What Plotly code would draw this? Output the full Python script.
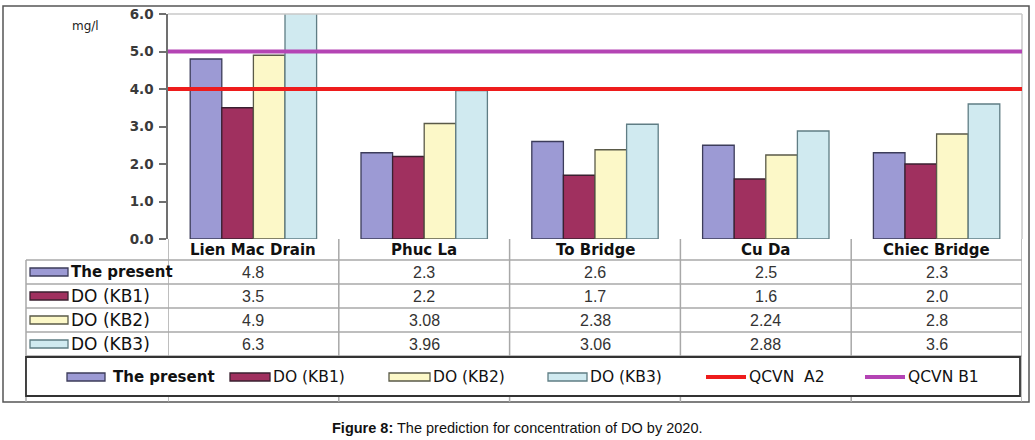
import plotly.graph_objects as go

# ---------------- data ----------------
categories = ["Lien Mac Drain", "Phuc La", "To Bridge", "Cu Da", "Chiec Bridge"]
series_names = ["The present", "DO (KB1)", "DO (KB2)", "DO (KB3)"]
present = [4.8, 2.3, 2.6, 2.5, 2.3]
kb1 = [3.5, 2.2, 1.7, 1.6, 2.0]
kb2 = [4.9, 3.08, 2.38, 2.24, 2.8]
kb3 = [6.3, 3.96, 3.06, 2.88, 3.6]
table_text = [
    ["4.8", "2.3", "2.6", "2.5", "2.3"],
    ["3.5", "2.2", "1.7", "1.6", "2.0"],
    ["4.9", "3.08", "2.38", "2.24", "2.8"],
    ["6.3", "3.96", "3.06", "2.88", "3.6"],
]
qcvn_a2 = 4.0
qcvn_b1 = 5.0
line_names = ["QCVN  A2", "QCVN B1"]
y_ticks = [0, 1, 2, 3, 4, 5, 6]
y_tick_labels = ["0.0", "1.0", "2.0", "3.0", "4.0", "5.0", "6.0"]
caption_bold = "Figure 8:"
caption_rest = " The prediction for concentration of DO by 2020."

# ---------------- style ----------------
W, H = 1035, 440
PL, PR, PT, PB = 168, 1022, 14, 239  # plot area in px
fills = ["#9c9ad4", "#a0305f", "#fcf8c8", "#d0eaf0"]
outlines = ["#3c3c5a", "#3a2030", "#5a5a48", "#5f7d84"]
red = "#ee1c1c"
magenta = "#b444b4"
SANS = "DejaVu Sans"
ARIAL = "Liberation Sans"


def xp(px):
    return (px - PL) / (PR - PL)


def yp(py):
    return (PB - py) / (PB - PT)


fig = go.Figure()
for name, vals, fc, lc in zip(series_names, [present, kb1, kb2, kb3], fills, outlines):
    fig.add_trace(go.Bar(
        x=categories, y=vals, name=name,
        marker=dict(color=fc, line=dict(color=lc, width=1.3)),
        showlegend=False, hoverinfo="x+y+name",
    ))

shapes = []
annotations = []

# plot frame
shapes.append(dict(type="line", xref="paper", yref="paper", x0=0, x1=1, y0=1, y1=1,
                   line=dict(color="#c8c8c8", width=1.5)))
shapes.append(dict(type="line", xref="paper", yref="paper", x0=1, x1=1, y0=0, y1=1,
                   line=dict(color="#c8c8c8", width=1.5)))

# standard lines
shapes.append(dict(type="line", xref="paper", yref="y", x0=0, x1=1, y0=qcvn_a2, y1=qcvn_a2,
                   line=dict(color=red, width=4)))
shapes.append(dict(type="line", xref="paper", yref="y", x0=0, x1=1, y0=qcvn_b1, y1=qcvn_b1,
                   line=dict(color=magenta, width=4)))

# outer border
shapes.append(dict(type="rect", xref="paper", yref="paper",
                   x0=xp(3), x1=xp(1029), y0=yp(402), y1=yp(6),
                   line=dict(color="#555555", width=1.5), fillcolor="rgba(0,0,0,0)", layer="below"))

# ---------------- data table ----------------
grid = "#a8a8a8"
row_lines = [260, 284, 308, 332, 356]
for i, ry in enumerate(row_lines):
    shapes.append(dict(type="line", xref="paper", yref="paper",
                       x0=xp(26), x1=xp(PR), y0=yp(ry), y1=yp(ry),
                       line=dict(color=grid, width=1.5)))
n = len(categories)
for i in range(n + 1):
    shapes.append(dict(type="line", xref="x", yref="paper",
                       x0=i - 0.5, x1=i - 0.5, y0=yp(PB), y1=yp(402),
                       line=dict(color=grid, width=1.5)))
shapes.append(dict(type="line", xref="paper", yref="paper",
                   x0=xp(26), x1=xp(26), y0=yp(260), y1=yp(402),
                   line=dict(color=grid, width=1.5)))

# header labels
for i, c in enumerate(categories):
    annotations.append(dict(x=i, xref="x", y=yp(250), yref="paper", text=c,
                            showarrow=False, xanchor="center", yanchor="middle",
                            font=dict(family=SANS, size=15, color="#111111", weight="bold")))

# row labels with swatches and values
row_centers = [272, 296, 320, 344]
for r, (name, fc, lc) in enumerate(zip(series_names, fills, outlines)):
    cy = row_centers[r]
    shapes.append(dict(type="rect", xref="paper", yref="paper",
                       x0=xp(30), x1=xp(68), y0=yp(cy + 4), y1=yp(cy - 4),
                       fillcolor=fc, line=dict(color=lc, width=1.3)))
    bold = r == 0
    annotations.append(dict(x=xp(69), xref="paper", y=yp(cy), yref="paper", text=name,
                            showarrow=False, xanchor="left", yanchor="middle",
                            font=dict(family=SANS, size=15 if bold else 17, color="#111111",
                                      weight="bold" if bold else "normal")))
    for i in range(n):
        annotations.append(dict(x=i, xref="x", y=yp(cy), yref="paper", text=table_text[r][i],
                                showarrow=False, xanchor="center", yanchor="middle",
                                font=dict(family=ARIAL, size=16, color="#333333")))

# ---------------- legend box ----------------
shapes.append(dict(type="rect", xref="paper", yref="paper",
                   x0=xp(26), x1=xp(1020), y0=yp(396), y1=yp(357),
                   line=dict(color="#333333", width=1.8), fillcolor="white"))
leg_cy = 377
legend_items = [
    # (swatch x0, x1, text x, label, kind, fill, outline, bold)
    (67, 105, 111, series_names[0], "rect", fills[0], outlines[0], True),
    (230, 270, 271, series_names[1], "rect", fills[1], outlines[1], False),
    (389, 430, 431, series_names[2], "rect", fills[2], outlines[2], False),
    (548, 587, 588, series_names[3], "rect", fills[3], outlines[3], False),
    (706, 746, 747, line_names[0], "line", red, red, False),
    (865, 905, 906, line_names[1], "line", magenta, magenta, False),
]
for x0, x1, tx, label, kind, fc, lc, bold in legend_items:
    if kind == "rect":
        shapes.append(dict(type="rect", xref="paper", yref="paper",
                           x0=xp(x0), x1=xp(x1), y0=yp(leg_cy + 4), y1=yp(leg_cy - 4),
                           fillcolor=fc, line=dict(color=lc, width=1.3)))
    else:
        shapes.append(dict(type="line", xref="paper", yref="paper",
                           x0=xp(x0), x1=xp(x1), y0=yp(leg_cy), y1=yp(leg_cy),
                           line=dict(color=fc, width=4)))
    annotations.append(dict(x=xp(tx), xref="paper", y=yp(leg_cy), yref="paper", text=label,
                            showarrow=False, xanchor="left", yanchor="middle",
                            font=dict(family=SANS, size=15 if bold else 15.5, color="#111111",
                                      weight="bold" if bold else "normal")))

# unit label
annotations.append(dict(x=xp(85), xref="paper", y=yp(26), yref="paper", text="mg/l",
                        showarrow=False, xanchor="center", yanchor="middle",
                        font=dict(family=SANS, size=12, color="#222222")))

# caption
annotations.append(dict(x=xp(517), xref="paper", y=yp(428), yref="paper",
                        text="<b>" + caption_bold + "</b>" + caption_rest,
                        showarrow=False, xanchor="center", yanchor="middle",
                        font=dict(family=ARIAL, size=14.5, color="#111111")))

fig.update_layout(
    width=W, height=H,
    margin=dict(l=PL, r=W - PR, t=PT, b=H - PB, pad=0, autoexpand=False),
    paper_bgcolor="white", plot_bgcolor="white",
    barmode="group", bargap=0.26, bargroupgap=0,
    shapes=shapes, annotations=annotations,
    xaxis=dict(type="category", range=[-0.5, n - 0.5], showticklabels=False, automargin=False,
               showgrid=False, zeroline=False, showline=False, fixedrange=True),
    yaxis=dict(range=[0, 6], tickvals=y_ticks, ticktext=y_tick_labels, automargin=False,
               showgrid=False, zeroline=False, showline=True, linecolor="#707070", linewidth=1.5,
               ticks="outside", ticklen=7, tickcolor="#707070", tickwidth=1.5, ticklabelstandoff=3,
               tickfont=dict(family=SANS, size=13.5, color="#3a3a3a", weight="bold"),
               fixedrange=True),
)

fig.write_html("out.html", config={"displayModeBar": False},
               post_script="document.body.style.margin='0';document.body.style.padding='0';")
